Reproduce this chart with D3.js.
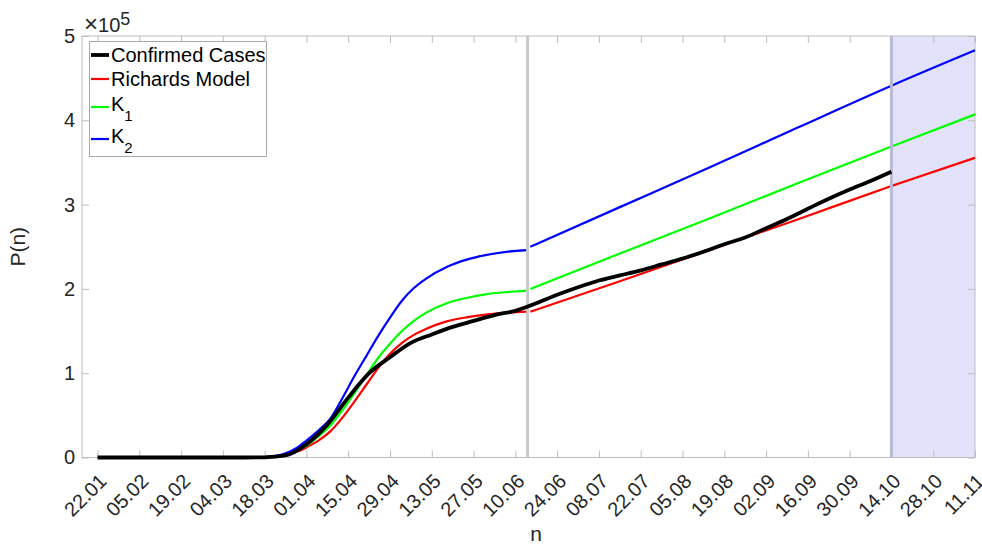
<!DOCTYPE html>
<html>
<head>
<meta charset="utf-8">
<script src="https://cdn.jsdelivr.net/npm/d3@7"></script>
<style>
  body { margin: 0; background: #fff; }
  svg text { font-family: Helvetica, Arial, "Liberation Sans", sans-serif; fill: #262626; }
</style>
</head>
<body>
<div id="chart"></div>
<script>
// date labels, every 14 days from 22.01 (day 0)
const tickLabels = ["22.01", "05.02", "19.02", "04.03", "18.03", "01.04", "15.04", "29.04",
  "13.05", "27.05", "10.06", "24.06", "08.07", "22.07", "05.08", "19.08", "02.09", "16.09",
  "30.09", "14.10", "28.10", "11.11"];
const tickDays = tickLabels.map((d, i) => i * 14);

// confirmed cases (x 1e5), weekly
const confDays = d3.range(0, 267, 7);
const confVals = [0, 0, 0, 0, 0, 0, 0, 0, 0.002, 0.024, 0.157, 0.39, 0.71, 1.00, 1.19, 1.36,
  1.46, 1.55, 1.62, 1.69, 1.74, 1.83, 1.93, 2.02, 2.10, 2.16, 2.22, 2.29, 2.36, 2.44, 2.53,
  2.61, 2.72, 2.83, 2.95, 3.07, 3.18, 3.28, 3.39];

// model fits before the break
const preDays = [49, 56, 63, 67, 70, 74, 78, 82, 86, 90, 94, 98, 102, 106, 110, 117, 124, 130, 137, 144];
const richardsPre = [0, 0.004, 0.03, 0.07, 0.12, 0.20, 0.31, 0.47, 0.66, 0.86, 1.06, 1.23, 1.36, 1.455, 1.525, 1.615, 1.665, 1.695, 1.718, 1.73];
const k1Pre = [0, 0.005, 0.04, 0.09, 0.14, 0.25, 0.38, 0.56, 0.76, 0.97, 1.18, 1.35, 1.50, 1.62, 1.715, 1.83, 1.895, 1.935, 1.962, 1.98];
const k2Pre = [0, 0.006, 0.05, 0.12, 0.20, 0.32, 0.46, 0.70, 0.96, 1.20, 1.44, 1.66, 1.86, 2.01, 2.12, 2.26, 2.35, 2.40, 2.44, 2.46];

// after the break
const postDays = [145, 175, 205, 235, 266, 294];
const richardsPost = [1.728, 2.09, 2.46, 2.83, 3.22, 3.555];
const k1Post = [2.00, 2.42, 2.835, 3.26, 3.69, 4.07];
const k2Post = [2.50, 2.97, 3.44, 3.92, 4.41, 4.83];

const breakDay = 144.1;
const forecastStart = 266, forecastEnd = 294;

const width = 982, height = 546;
const margin = {left: 82, right: 7, top: 36, bottom: 88.5};

const svg = d3.select("#chart").append("svg")
  .attr("width", width).attr("height", height);

const x = d3.scaleLinear().domain([-5.2, 294]).range([margin.left, width - margin.right]);
const y = d3.scaleLinear().domain([0, 5]).range([height - margin.bottom, margin.top]);

// forecast shading
svg.append("rect")
  .attr("x", x(forecastStart)).attr("y", y(5))
  .attr("width", x(forecastEnd) - x(forecastStart))
  .attr("height", y(0) - y(5))
  .attr("fill", "#e2e2fb");

// axes box
const axisColor = "#bdbdbd";
svg.append("rect")
  .attr("x", x.range()[0]).attr("y", y(5))
  .attr("width", x.range()[1] - x.range()[0]).attr("height", y(0) - y(5))
  .attr("fill", "none").attr("stroke", axisColor);

const xAxis = svg.append("g")
  .attr("transform", `translate(0,${y(0)})`)
  .call(d3.axisBottom(x).tickValues(tickDays).tickFormat((d, i) => tickLabels[i]).tickSizeInner(-7).tickSizeOuter(0));
svg.append("g")
  .attr("transform", `translate(0,${y(5)})`)
  .call(d3.axisTop(x).tickValues(tickDays).tickFormat("").tickSizeInner(-7).tickSizeOuter(0));
const yAxis = svg.append("g")
  .attr("transform", `translate(${x.range()[0]},0)`)
  .call(d3.axisLeft(y).tickValues([0, 1, 2, 3, 4, 5]).tickFormat(d3.format("d")).tickSizeInner(-7).tickSizeOuter(0));
svg.append("g")
  .attr("transform", `translate(${x.range()[1]},0)`)
  .call(d3.axisRight(y).tickValues([0, 1, 2, 3, 4, 5]).tickFormat("").tickSizeInner(-7).tickSizeOuter(0));

svg.selectAll(".domain").remove();
svg.selectAll(".tick line").attr("stroke", axisColor);

xAxis.selectAll("text")
  .attr("font-size", 20)
  .attr("text-anchor", "end")
  .attr("y", 0).attr("dy", "0.35em")
  .attr("transform", "translate(5,20) rotate(-45)");
yAxis.selectAll("text")
  .attr("font-size", 20)
  .attr("x", -7);

// exponent label
const expo = svg.append("text").attr("x", 84).attr("y", 32).attr("font-size", 20);
expo.append("tspan").attr("font-size", 24).text("\u00d7");
expo.append("tspan").text("10");
expo.append("tspan").attr("dy", -7).attr("font-size", 18).text("5");

// axis titles
svg.append("text")
  .attr("transform", `translate(25,${(y(0) + y(5)) / 2}) rotate(-90)`)
  .attr("text-anchor", "middle").attr("font-size", 21).text("P(n)");
svg.append("text")
  .attr("x", 536).attr("y", 541)
  .attr("text-anchor", "middle").attr("font-size", 21).text("n");

// curves
const line = d3.line()
  .x(d => x(d[0]))
  .y(d => y(d[1]))
  .curve(d3.curveMonotoneX);

function drawSeries(days, vals, color, w) {
  svg.append("path")
    .datum(d3.zip(days, vals))
    .attr("fill", "none")
    .attr("stroke", color)
    .attr("stroke-width", w)
    .attr("stroke-linejoin", "round")
    .attr("d", line);
}

drawSeries(preDays, richardsPre, "#ff0000", 2.2);
drawSeries(postDays, richardsPost, "#ff0000", 2.2);
drawSeries(preDays, k1Pre, "#00ff00", 2.2);
drawSeries(postDays, k1Post, "#00ff00", 2.2);
drawSeries(preDays, k2Pre, "#0000ff", 2.2);
drawSeries(postDays, k2Post, "#0000ff", 2.2);

// break and forecast markers
svg.append("line")
  .attr("x1", x(breakDay)).attr("x2", x(breakDay))
  .attr("y1", y(5)).attr("y2", y(0))
  .attr("stroke", "#c8c8c8").attr("stroke-width", 3);
svg.append("line")
  .attr("x1", x(forecastStart)).attr("x2", x(forecastStart))
  .attr("y1", y(5)).attr("y2", y(0))
  .attr("stroke", "#babad8").attr("stroke-width", 3);

drawSeries(confDays, confVals, "#000000", 3.8);

// legend
const legend = svg.append("g");
legend.append("rect")
  .attr("x", 89.5).attr("y", 41.5).attr("width", 177).attr("height", 115)
  .attr("fill", "#fff").attr("stroke", "#a8a8a8");

const legendItems = [
  {label: "Confirmed Cases", sub: null, color: "#000000", w: 3.8, y: 55},
  {label: "Richards Model", sub: null, color: "#ff0000", w: 2.2, y: 79},
  {label: "K", sub: "1", color: "#00ff00", w: 2.2, y: 107},
  {label: "K", sub: "2", color: "#0000ff", w: 2.2, y: 139}
];
legendItems.forEach(it => {
  legend.append("line")
    .attr("x1", 91).attr("x2", 109).attr("y1", it.y).attr("y2", it.y)
    .attr("stroke", it.color).attr("stroke-width", it.w);
  const t = legend.append("text")
    .attr("x", 111).attr("y", it.sub ? it.y - 3 : it.y)
    .attr("dy", "0.35em").attr("font-size", 20).attr("fill", "#000");
  t.append("tspan").attr("fill", "#000").text(it.label);
  if (it.sub) t.append("tspan").attr("dy", 10).attr("font-size", 15).attr("fill", "#000").text(it.sub);
});
</script>
</body>
</html>
